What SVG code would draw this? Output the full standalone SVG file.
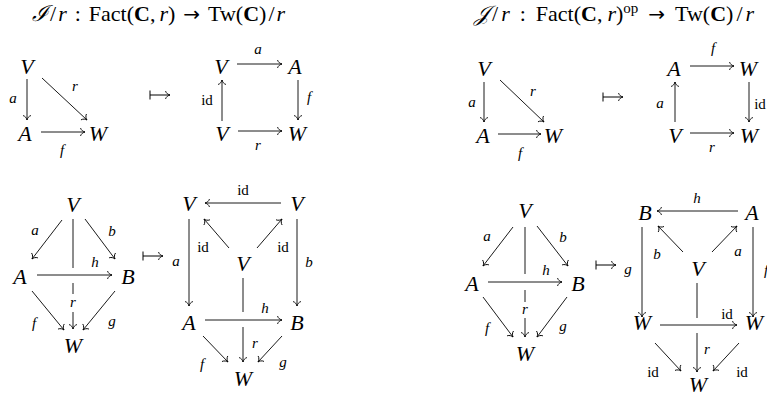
<svg xmlns="http://www.w3.org/2000/svg" width="767" height="396" viewBox="0 0 767 396">
<defs>
<marker id="ah" viewBox="-6 -5 7 10" markerWidth="7" markerHeight="10" refX="0" refY="0" orient="auto" markerUnits="userSpaceOnUse">
<path d="M-4.5,-4 C-3.8,-1.6 -1.6,-0.4 0,0 C-1.6,0.4 -3.8,1.6 -4.5,4" fill="none" stroke="#000" stroke-width="0.9"/>
</marker>
<marker id="bar" viewBox="-1 -5 2 10" markerWidth="2" markerHeight="10" refX="0" refY="0" orient="auto" markerUnits="userSpaceOnUse">
<path d="M0,-4.5 L0,4.5" stroke="#000" stroke-width="1"/>
</marker>
</defs>
<style>
.t{font-family:"Liberation Serif",serif;font-size:22px;fill:#000}
.ar{font-family:"DejaVu Sans",sans-serif;font-size:20px}
.n{font-family:"Liberation Serif",serif;font-style:italic;font-size:22px;text-anchor:middle;fill:#000}
.l{font-family:"Liberation Serif",serif;font-style:italic;font-size:15px;text-anchor:middle;fill:#000}
.r{font-style:normal}
.e{stroke:#000;stroke-width:0.9;fill:none;marker-end:url(#ah)}
.s{stroke:#000;stroke-width:0.9;fill:none}
.m{stroke:#000;stroke-width:1;fill:none;marker-start:url(#bar);marker-end:url(#ah)}
</style>
<rect width="767" height="396" fill="#fff"/>

<g id="title-left"><text class="t" x="32" y="21"><tspan font-style="italic">ℐ</tspan><tspan dx="2">/</tspan><tspan dx="2" font-style="italic">r</tspan><tspan dx="8">:</tspan><tspan dx="8">Fact(</tspan><tspan font-weight="bold">C</tspan>,<tspan dx="4" font-style="italic">r</tspan>)<tspan class="ar" dx="8">→</tspan><tspan dx="8">Tw(</tspan><tspan font-weight="bold">C</tspan>)<tspan dx="2">/</tspan><tspan dx="2" font-style="italic">r</tspan></text></g>
<g id="title-right"><text class="t" x="474" y="21"><tspan font-style="italic">𝒥</tspan><tspan dx="3">/</tspan><tspan dx="3" font-style="italic">r</tspan><tspan dx="10">:</tspan><tspan dx="10">Fact(</tspan><tspan font-weight="bold">C</tspan>,<tspan dx="5" font-style="italic">r</tspan>)<tspan font-size="15" dy="-8">op</tspan><tspan class="ar" dx="10" dy="8">→</tspan><tspan dx="10">Tw(</tspan><tspan font-weight="bold">C</tspan>)<tspan dx="3">/</tspan><tspan dx="3" font-style="italic">r</tspan></text></g>

<!-- Nodes -->
<g id="d1-V"><text class="n" x="27" y="74">V</text></g>
<g id="d1-A"><text class="n" x="25" y="141">A</text></g>
<g id="d1-W"><text class="n" x="98" y="141">W</text></g>

<g id="d2-V1"><text class="n" x="221" y="74">V</text></g>
<g id="d2-A"><text class="n" x="295" y="74">A</text></g>
<g id="d2-V2"><text class="n" x="222" y="141">V</text></g>
<g id="d2-W"><text class="n" x="297" y="141">W</text></g>

<g id="d3-V"><text class="n" x="484" y="76">V</text></g>
<g id="d3-A"><text class="n" x="483" y="143">A</text></g>
<g id="d3-W"><text class="n" x="553" y="143">W</text></g>

<g id="d4-A"><text class="n" x="674" y="76">A</text></g>
<g id="d4-W1"><text class="n" x="748" y="76">W</text></g>
<g id="d4-V"><text class="n" x="675" y="143">V</text></g>
<g id="d4-W2"><text class="n" x="749" y="143">W</text></g>

<g id="d5-V"><text class="n" x="73" y="212">V</text></g>
<g id="d5-A"><text class="n" x="20" y="284">A</text></g>
<g id="d5-B"><text class="n" x="128" y="284">B</text></g>
<g id="d5-W"><text class="n" x="73" y="353">W</text></g>

<g id="d6-V1"><text class="n" x="189" y="211">V</text></g>
<g id="d6-V2"><text class="n" x="297" y="211">V</text></g>
<g id="d6-V3"><text class="n" x="243" y="271">V</text></g>
<g id="d6-A"><text class="n" x="189" y="330">A</text></g>
<g id="d6-B"><text class="n" x="297" y="330">B</text></g>
<g id="d6-W"><text class="n" x="243" y="386">W</text></g>

<g id="d7-V"><text class="n" x="525" y="218">V</text></g>
<g id="d7-A"><text class="n" x="472" y="291">A</text></g>
<g id="d7-B"><text class="n" x="578" y="291">B</text></g>
<g id="d7-W"><text class="n" x="525" y="361">W</text></g>

<g id="d8-B"><text class="n" x="645" y="220">B</text></g>
<g id="d8-A"><text class="n" x="752" y="220">A</text></g>
<g id="d8-V"><text class="n" x="698" y="276">V</text></g>
<g id="d8-W1"><text class="n" x="642" y="330">W</text></g>
<g id="d8-W2"><text class="n" x="754" y="330">W</text></g>
<g id="d8-W3"><text class="n" x="698" y="392">W</text></g>

<!-- Connectors -->
<g id="connectors">
<path class="e" d="M27,79 L27,120"/>
<path class="e" d="M42,78 L87,120"/>
<path class="e" d="M41,132 L85,132"/>
<path class="m" d="M150,95 L170,95"/>
<path class="e" d="M237,64 L282,64"/>
<path class="e" d="M222,121 L222,80"/>
<path class="e" d="M298,80 L298,120"/>
<path class="e" d="M238,131 L282,131"/>
<path class="e" d="M484,82 L484,122"/>
<path class="e" d="M500,80 L544,122"/>
<path class="e" d="M498,134 L541,134"/>
<path class="m" d="M603,97 L623,97"/>
<path class="e" d="M690,66 L734,66"/>
<path class="e" d="M675,122 L675,82"/>
<path class="e" d="M749,82 L749,122"/>
<path class="e" d="M690,133 L734,133"/>
<path class="e" d="M62,220 L32,259"/>
<path class="e" d="M85,219 L115,259"/>
<path class="s" d="M73,219 L73,268"/>
<path class="e" d="M37,275 L112,275"/>
<path class="s" d="M73,283 L73,294"/>
<path class="e" d="M73,312 L73,329"/>
<path class="e" d="M32,291 L64,330"/>
<path class="e" d="M115,291 L83,330"/>
<path class="m" d="M143,256 L163,256"/>
<path class="e" d="M281,203 L205,203"/>
<path class="e" d="M229,248 L204,219"/>
<path class="e" d="M257,248 L282,219"/>
<path class="e" d="M189,219 L189,306"/>
<path class="e" d="M297,219 L297,306"/>
<path class="e" d="M205,320 L282,320"/>
<path class="s" d="M243,278 L243,312"/>
<path class="e" d="M243,327 L243,362"/>
<path class="e" d="M203,336 L228,362"/>
<path class="e" d="M282,336 L258,362"/>
<path class="e" d="M513,227 L483,266"/>
<path class="e" d="M537,226 L568,266"/>
<path class="s" d="M525,227 L525,274"/>
<path class="e" d="M488,282 L562,282"/>
<path class="s" d="M525,290 L525,302"/>
<path class="e" d="M525,318 L525,337"/>
<path class="e" d="M483,297 L513,337"/>
<path class="e" d="M567,297 L537,337"/>
<path class="m" d="M596,265 L616,265"/>
<path class="e" d="M738,211 L657,211"/>
<path class="e" d="M683,252 L658,226"/>
<path class="e" d="M712,252 L737,226"/>
<path class="e" d="M642,227 L642,317"/>
<path class="e" d="M753,227 L753,317"/>
<path class="e" d="M660,325 L737,325"/>
<path class="s" d="M697,283 L697,318"/>
<path class="e" d="M697,333 L697,372"/>
<path class="e" d="M655,343 L681,371"/>
<path class="e" d="M739,343 L713,371"/>
</g>

<!-- Labels -->
<g id="labels">
<text class="l" x="13" y="103">a</text>
<text class="l" x="75" y="91">r</text>
<text class="l" x="62" y="155">f</text>
<text class="l" x="258" y="54">a</text>
<text class="l r" x="207" y="105">id</text>
<text class="l" x="309" y="102">f</text>
<text class="l" x="258" y="150">r</text>
<text class="l" x="472" y="107">a</text>
<text class="l" x="533" y="96">r</text>
<text class="l" x="520" y="158">f</text>
<text class="l" x="713" y="53">f</text>
<text class="l" x="660" y="108">a</text>
<text class="l r" x="760" y="109">id</text>
<text class="l" x="712" y="152">r</text>
<text class="l" x="35" y="235">a</text>
<text class="l" x="112" y="236">b</text>
<text class="l" x="95" y="267">h</text>
<text class="l" x="73" y="307">r</text>
<text class="l" x="34" y="328">f</text>
<text class="l" x="112" y="326">g</text>
<text class="l r" x="243" y="195">id</text>
<text class="l r" x="203" y="252">id</text>
<text class="l r" x="283" y="252">id</text>
<text class="l" x="176" y="266">a</text>
<text class="l" x="309" y="267">b</text>
<text class="l" x="265" y="313">h</text>
<text class="l" x="255" y="348">r</text>
<text class="l" x="202" y="369">f</text>
<text class="l" x="283" y="367">g</text>
<text class="l" x="487" y="241">a</text>
<text class="l" x="563" y="242">b</text>
<text class="l" x="546" y="275">h</text>
<text class="l" x="525" y="314">r</text>
<text class="l" x="487" y="333">f</text>
<text class="l" x="563" y="331">g</text>
<text class="l" x="697" y="203">h</text>
<text class="l" x="657" y="259">b</text>
<text class="l" x="738" y="256">a</text>
<text class="l" x="628" y="274">g</text>
<text class="l" x="766" y="275">f</text>
<text class="l r" x="727" y="319">id</text>
<text class="l" x="707" y="354">r</text>
<text class="l r" x="653" y="377">id</text>
<text class="l r" x="742" y="377">id</text>
</g>
</svg>
